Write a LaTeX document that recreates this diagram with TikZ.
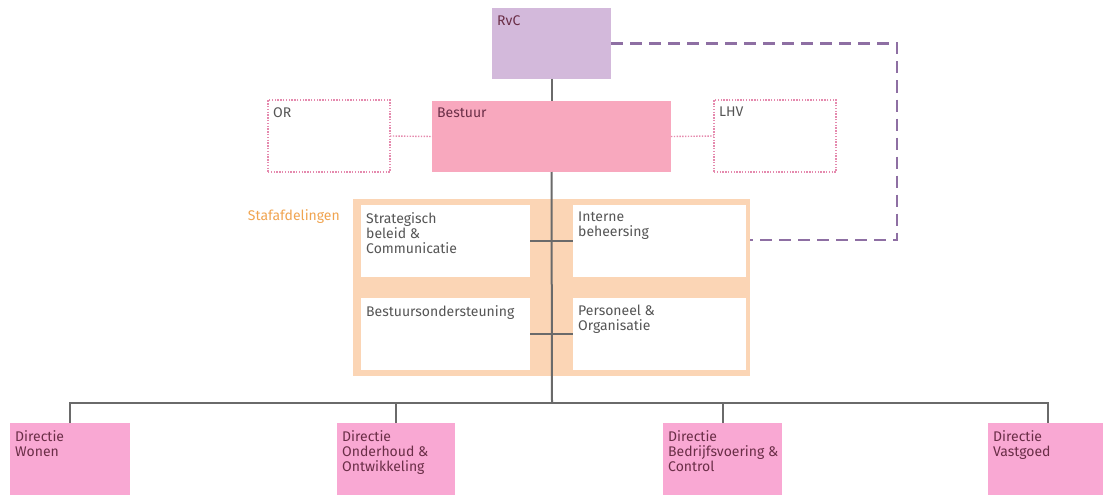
\documentclass[tikz,border=0pt]{standalone}
\usepackage{fontspec}
\setmainfont{Fira Sans}
\definecolor{rvcfill}{HTML}{D3B9DB}
\definecolor{bestfill}{HTML}{F8A8BE}
\definecolor{dirfill}{HTML}{F9A8D3}
\definecolor{staffill}{HTML}{FBD5B5}
\definecolor{staftext}{HTML}{F0A450}
\definecolor{boxtext}{HTML}{6A2E47}
\definecolor{greytext}{HTML}{555555}
\definecolor{linegrey}{HTML}{6A6A6A}
\definecolor{dashpurple}{HTML}{8E6FA3}
\definecolor{dotpink}{HTML}{E58AAE}
\begin{document}
\begin{tikzpicture}[x=1pt,y=-1pt,
    box/.style={anchor=north west, inner sep=0pt, outer sep=0pt},
    txt/.style={anchor=north west, inner xsep=5pt, inner ysep=7pt, align=left,
      font=\fontsize{14}{15}\selectfont},
    conn/.style={draw=linegrey, line width=2pt},
    dotbox/.style={box, draw=dotpink, line width=1.4pt, dash pattern=on 1.4pt off 1.4pt},
    dotline/.style={draw=dotpink, line width=1.4pt, dash pattern=on 1.4pt off 1.4pt},
    rvcline/.style={draw=dashpurple, line width=2.2pt, dash pattern=on 12pt off 7pt}]
  \useasboundingbox (0,0) rectangle (1103,495);
  \clip (0,0) rectangle (1103,495);
  % top
  \node[box, fill=rvcfill, minimum width=119pt, minimum height=71pt,
    label={[txt, text=boxtext]north west:RvC}] (rvc) at (492,8) {};
  \node[box, fill=bestfill, minimum width=239pt, minimum height=71pt,
    label={[txt, text=boxtext]north west:Bestuur}] (bestuur) at (432,101) {};
  \node[dotbox, minimum width=122pt, minimum height=72pt,
    label={[txt, text=greytext]north west:OR}] (or) at (268,100) {};
  \node[dotbox, minimum width=122pt, minimum height=72pt,
    label={[txt, text=greytext]north west:LHV}] (lhv) at (714,100) {};
  % staf
  \node[box, fill=staffill, minimum width=397pt, minimum height=177pt] (staf) at (353,199) {};
  \node[anchor=north east, inner sep=0pt, text=staftext,
    font=\fontsize{14}{15}\selectfont] (staflabel) at (340,209) {Stafafdelingen};
  \node[box, fill=white, minimum width=169pt, minimum height=72pt,
    label={[txt, text=greytext]north west:Strategisch\\beleid \&\\Communicatie}] (strat) at (361,205) {};
  \node[box, fill=white, minimum width=173pt, minimum height=72pt,
    label={[txt, text=greytext]north west:Interne\\beheersing}] (intern) at (573,205) {};
  \node[box, fill=white, minimum width=169pt, minimum height=72pt,
    label={[txt, text=greytext]north west:Bestuursondersteuning}] (bos) at (361,298) {};
  \node[box, fill=white, minimum width=173pt, minimum height=72pt,
    label={[txt, text=greytext]north west:Personeel \&\\Organisatie}] (peo) at (573,298) {};
  % directies
  \node[box, fill=dirfill, minimum width=120pt, minimum height=75pt,
    label={[txt, text=boxtext]north west:Directie\\Wonen}] (dwonen) at (10,423) {};
  \node[box, fill=dirfill, minimum width=118pt, minimum height=75pt,
    label={[txt, text=boxtext]north west:Directie\\Onderhoud \&\\Ontwikkeling}] (doo) at (337,423) {};
  \node[box, fill=dirfill, minimum width=119pt, minimum height=75pt,
    label={[txt, text=boxtext]north west:Directie\\Bedrijfsvoering \&\\Control}] (dbc) at (663,423) {};
  \node[box, fill=dirfill, minimum width=120pt, minimum height=75pt,
    label={[txt, text=boxtext]north west:Directie\\Vastgoed}] (dvast) at (988,423) {};
  \coordinate (bus) at (552,403);
  \coordinate (dashcorner) at (897,240);
  % lines
  \draw[conn] (rvc.south) -- (bestuur.north);
  \draw[conn] (bestuur.south) -- (bus);
  \draw[conn] (strat.east) -- (intern.west);
  \draw[conn] (bos.east) -- (peo.west);
  \draw[conn] (dwonen.north) -- (dwonen.north |- bus) -- (dvast.north |- bus) -- (dvast.north);
  \draw[conn] (doo.north) -- (doo.north |- bus);
  \draw[conn] (dbc.north) -- (dbc.north |- bus);
  \draw[dotline] (or.east) -- (bestuur.west);
  \draw[dotline] (bestuur.east) -- (lhv.west);
  \draw[rvcline] (rvc.east) -| (dashcorner) -- (dashcorner -| staf.east);
\end{tikzpicture}
\end{document}
